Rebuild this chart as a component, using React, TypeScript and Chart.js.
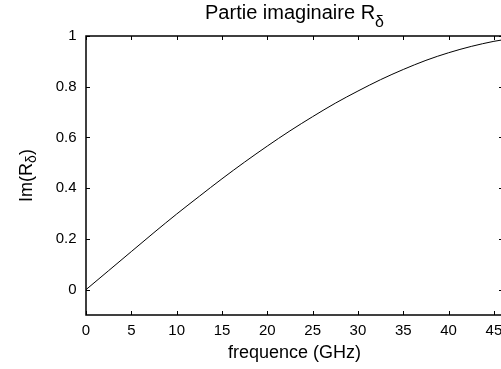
import React, { useEffect, useRef } from "react";
import { Chart, registerables } from "chart.js";

Chart.register(...registerables);

// ---- data ----
const frequencies = [0, 2.5, 5, 7.5, 10, 12.5, 15, 17.5, 20, 22.5, 25, 27.5, 30, 32.5, 35, 37.5, 40, 42.5, 45, 46];
const imagValues = [0, 0.075, 0.15, 0.225, 0.298, 0.368, 0.437, 0.503, 0.566, 0.626, 0.682, 0.735, 0.783, 0.828, 0.868, 0.904, 0.934, 0.959, 0.979, 0.985];

const xTicks = [0, 5, 10, 15, 20, 25, 30, 35, 40, 45];
const xTickLabels = ["0", "5", "10", "15", "20", "25", "30", "35", "40", "45"];
const yTicks = [0, 0.2, 0.4, 0.6, 0.8, 1];
const yTickLabels = ["0", "0.2", "0.4", "0.6", "0.8", "1"];

const xMin = 0;
const xMax = 46;
const yMin = -0.1;
const yMax = 1;

const titleMain = "Partie imaginaire R";
const titleSub = "δ";
const xTitle = "frequence (GHz)";
const yTitleMain = "Im(R";
const yTitleSub = "δ";
const yTitleEnd = ")";

const FONT = "'Liberation Sans', Arial, Helvetica, sans-serif";

function drawSubscripted(
  ctx: CanvasRenderingContext2D,
  main: string,
  sub: string,
  tail: string,
  cx: number,
  baseline: number,
  mainSize: number,
  subSize: number,
  drop: number
) {
  const mf = `${mainSize}px ${FONT}`;
  const sf = `${subSize}px ${FONT}`;
  ctx.font = mf;
  const w1 = ctx.measureText(main).width;
  const w3 = tail ? ctx.measureText(tail).width : 0;
  ctx.font = sf;
  const w2 = ctx.measureText(sub).width;
  const total = w1 + w2 + w3;
  let x = cx - total / 2;
  ctx.textAlign = "left";
  ctx.textBaseline = "alphabetic";
  ctx.font = mf;
  ctx.fillText(main, x, baseline);
  x += w1;
  ctx.font = sf;
  ctx.fillText(sub, x, baseline + drop);
  x += w2;
  if (tail) {
    ctx.font = mf;
    ctx.fillText(tail, x, baseline);
  }
}

export default function App() {
  const ref = useRef<HTMLCanvasElement>(null);

  useEffect(() => {
    const canvas = ref.current;
    if (!canvas) return;

    const framePlugin = {
      id: "gnuplotFrame",
      afterDraw(chart: any) {
        const { ctx, chartArea: a, scales } = chart;
        const xs = scales.x;
        const ys = scales.y;
        ctx.save();
        ctx.strokeStyle = "#000";
        ctx.fillStyle = "#000";
        ctx.lineWidth = 1;
        const T = 4;
        ctx.beginPath();
        for (const v of xTicks) {
          const px = Math.round(xs.getPixelForValue(v)) + 0.5;
          ctx.moveTo(px, a.bottom);
          ctx.lineTo(px, a.bottom - T);
          ctx.moveTo(px, a.top);
          ctx.lineTo(px, a.top + T);
        }
        for (const v of yTicks) {
          const py = Math.round(ys.getPixelForValue(v)) + 0.5;
          ctx.moveTo(a.left, py);
          ctx.lineTo(a.left + T, py);
          ctx.moveTo(a.right, py);
          ctx.lineTo(a.right - T, py);
        }
        ctx.stroke();
        ctx.lineWidth = 1.5;
        ctx.strokeRect(a.left, a.top, a.right - a.left, a.bottom - a.top);

        const cx = (a.left + a.right) / 2;
        // title
        drawSubscripted(ctx, titleMain, titleSub, "", cx, 18.5, 20, 16, 8);
        // x axis title
        ctx.font = `18px ${FONT}`;
        ctx.textAlign = "center";
        ctx.textBaseline = "alphabetic";
        ctx.fillText(xTitle, cx, 357.5);
        // y axis title (rotated)
        ctx.save();
        ctx.translate(31.5, (a.top + a.bottom) / 2);
        ctx.rotate(-Math.PI / 2);
        drawSubscripted(ctx, yTitleMain, yTitleSub, yTitleEnd, 0, 0, 18, 14, 4);
        ctx.restore();
        ctx.restore();
      },
    };

    const chart = new Chart(canvas, {
      type: "line",
      data: {
        datasets: [
          {
            data: frequencies.map((f, i) => ({ x: f, y: imagValues[i] })),
            borderColor: "#000",
            borderWidth: 1,
            pointRadius: 0,
            fill: false,
            cubicInterpolationMode: "monotone",
          },
        ],
      },
      options: {
        animation: false,
        responsive: false,
        devicePixelRatio: 1,
        layout: { padding: { top: 36, right: 17, left: 0, bottom: 0 } },
        plugins: {
          legend: { display: false },
          tooltip: { enabled: false },
          title: { display: false },
        },
        scales: {
          x: {
            type: "linear",
            min: xMin,
            max: xMax,
            grid: { display: false, drawTicks: false },
            border: { display: false },
            ticks: {
              color: "#000",
              font: { family: FONT, size: 15 },
              padding: 7,
              maxRotation: 0,
              autoSkip: false,
              callback: (_v: any, i: number) => xTickLabels[i],
            },
            afterBuildTicks: (s: any) => {
              s.ticks = xTicks.map((v) => ({ value: v }));
            },
            afterFit: (s: any) => {
              s.height = 54;
            },
          },
          y: {
            type: "linear",
            min: yMin,
            max: yMax,
            grid: { display: false, drawTicks: false },
            border: { display: false },
            ticks: {
              color: "#000",
              font: { family: FONT, size: 15 },
              padding: 9.5,
              autoSkip: false,
              callback: (_v: any, i: number) => yTickLabels[i],
            },
            afterBuildTicks: (s: any) => {
              s.ticks = yTicks.map((v) => ({ value: v }));
            },
            afterFit: (s: any) => {
              s.width = 86;
            },
          },
        },
      } as any,
      plugins: [framePlugin],
    });

    return () => chart.destroy();
  }, []);

  return (
    <div
      style={{
        position: "fixed",
        left: 0,
        top: 0,
        width: 501,
        height: 369,
        overflow: "hidden",
        background: "#fff",
      }}
    >
      <canvas ref={ref} width={520} height={369} style={{ display: "block", width: 520, height: 369 }} />
    </div>
  );
}
